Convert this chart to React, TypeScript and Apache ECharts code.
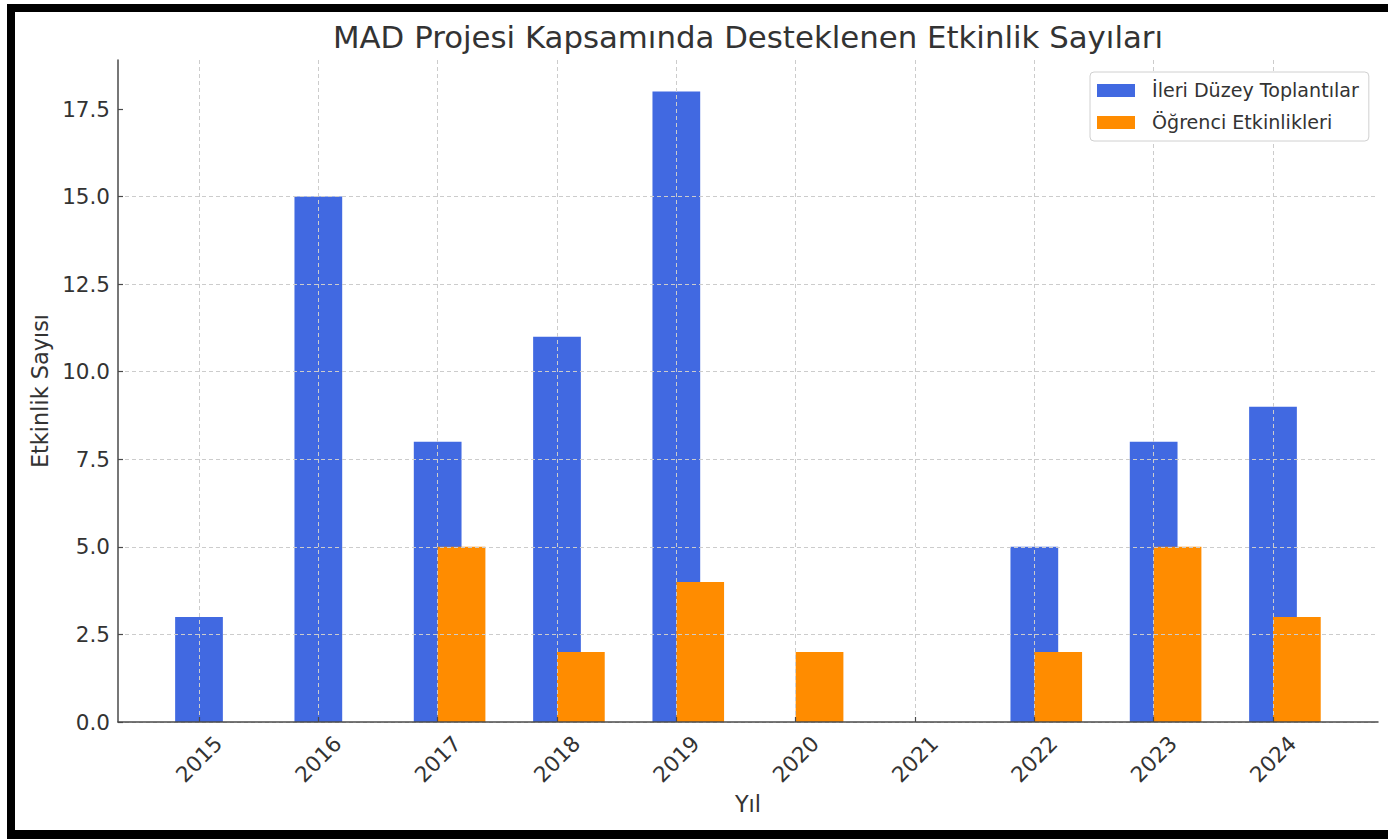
import React, { useEffect, useRef } from "react";
import * as echarts from "echarts";

const years = ["2015", "2016", "2017", "2018", "2019", "2020", "2021", "2022", "2023", "2024"];
const ileriDuzey = [3, 15, 8, 11, 18, 0, 0, 5, 8, 9];
const ogrenci = [0, 0, 5, 2, 4, 2, 0, 2, 5, 3];
const yTicks = [0, 2.5, 5, 7.5, 10, 12.5, 15, 17.5];
const seriesNames = ["İleri Düzey Toplantılar", "Öğrenci Etkinlikleri"];
const colors = ["#4169E1", "#FF8C00"];

const FONT = "DejaVu Sans";
const TXT = "#333333";
const AX = "#4a4a4a";
const GRIDC = "#cccccc";
const YMAX = 18.9;

export default function App() {
  const ref = useRef<HTMLDivElement>(null);
  useEffect(() => {
    document.body.style.margin = "0";
    const chart = echarts.init(ref.current!, null, { renderer: "svg" });
    const makeRender = (which: number) => (params: any, api: any) => {
      const idx = api.value(0);
      const val = api.value(1);
      const p0 = api.coord([idx, 0]);
      const p1 = api.coord([idx, val]);
      const step = api.coord([1, 0])[0] - api.coord([0, 0])[0];
      const w = step * 0.4;
      const x = which === 0 ? p0[0] - w / 2 : p0[0];
      return {
        type: "rect",
        shape: { x, y: p1[1], width: w, height: p0[1] - p1[1] },
        style: { fill: api.visual("color") },
      };
    };
    chart.setOption({
      animation: false,
      backgroundColor: "#ffffff",
      color: colors,
      textStyle: { fontFamily: FONT },
      graphic: [
        {
          type: "text",
          x: 748,
          y: 37,
          style: {
            text: "MAD Projesi Kapsamında Desteklenen Etkinlik Sayıları",
            fontSize: 30.8,
            fontFamily: FONT,
            fill: TXT,
            align: "center",
            verticalAlign: "middle",
          },
        },
        { type: "rect", shape: { x: 7, y: 4, width: 1381, height: 8 }, style: { fill: "#000" } },
        { type: "rect", shape: { x: 7, y: 4, width: 8, height: 835 }, style: { fill: "#000" } },
        { type: "rect", shape: { x: 7, y: 830, width: 1381, height: 9 }, style: { fill: "#000" } },
      ],
      legend: {
        orient: "vertical",
        left: 1090,
        top: 72,
        data: seriesNames,
        icon: "rect",
        itemWidth: 38,
        itemHeight: 13,
        itemGap: 13,
        padding: [9, 10, 9, 7],
        backgroundColor: "#ffffff",
        borderColor: "#d0d0d0",
        borderWidth: 1,
        borderRadius: 4,
        textStyle: { fontSize: 19.1, color: TXT, fontFamily: FONT, padding: [0, 0, 0, 12] },
      },
      grid: [
        { left: 118, top: 60, width: 1260, height: 662 },
        { left: 199, top: 60, width: 1074, height: 662 },
      ],
      xAxis: [
        {
          type: "value",
          gridIndex: 0,
          min: 0,
          max: 1,
          z: 4,
          axisLine: { show: true, lineStyle: { color: AX, width: 1.5 } },
          axisTick: { show: false },
          axisLabel: { show: false },
          splitLine: { show: false },
          name: "Yıl",
          nameLocation: "middle",
          nameGap: 71,
          nameTextStyle: { fontSize: 22.4, color: TXT, fontFamily: FONT },
        },
        {
          type: "category",
          gridIndex: 1,
          data: years,
          boundaryGap: false,
          z: 3,
          axisLine: { show: false },
          axisTick: { show: true, inside: true, length: 5, interval: 0, lineStyle: { color: AX, width: 1.2 } },
          axisLabel: {
            interval: 0,
            rotate: 45,
            align: "center",
            verticalAlign: "middle",
            margin: 37,
            fontSize: 21.5,
            color: TXT,
            fontFamily: FONT,
          },
          splitLine: { show: true, interval: 0, lineStyle: { color: GRIDC, width: 1, type: [4, 3] } },
        },
      ],
      yAxis: [
        {
          type: "value",
          gridIndex: 0,
          min: 0,
          max: YMAX,
          interval: 2.5,
          z: 3,
          axisLine: { show: true, lineStyle: { color: AX, width: 1.5 } },
          axisTick: { show: true, inside: true, length: 5, customValues: yTicks, lineStyle: { color: AX, width: 1.2 } },
          axisLabel: {
            customValues: yTicks,
            formatter: (v: number) => v.toFixed(1),
            fontSize: 21.5,
            color: TXT,
            fontFamily: FONT,
            margin: 8,
          },
          splitLine: { show: true, showMaxLine: false, lineStyle: { color: GRIDC, width: 1, type: [4, 3] } },
          name: "Etkinlik Sayısı",
          nameLocation: "middle",
          nameGap: 66,
          nameTextStyle: { fontSize: 22.4, color: TXT, fontFamily: FONT },
        },
        {
          type: "value",
          gridIndex: 1,
          min: 0,
          max: YMAX,
          show: false,
          splitLine: { show: false },
        },
      ],
      series: [
        {
          name: seriesNames[0],
          type: "custom",
          xAxisIndex: 1,
          yAxisIndex: 1,
          z: 2,
          itemStyle: { color: colors[0] },
          renderItem: makeRender(0),
          encode: { x: 0, y: 1 },
          data: years.map((_, i) => [i, ileriDuzey[i]]),
        },
        {
          name: seriesNames[1],
          type: "custom",
          xAxisIndex: 1,
          yAxisIndex: 1,
          z: 2,
          itemStyle: { color: colors[1] },
          renderItem: makeRender(1),
          encode: { x: 0, y: 1 },
          data: years.map((_, i) => [i, ogrenci[i]]),
        },
      ],
    });
    return () => chart.dispose();
  }, []);
  return <div ref={ref} style={{ width: 1388, height: 839 }} />;
}
